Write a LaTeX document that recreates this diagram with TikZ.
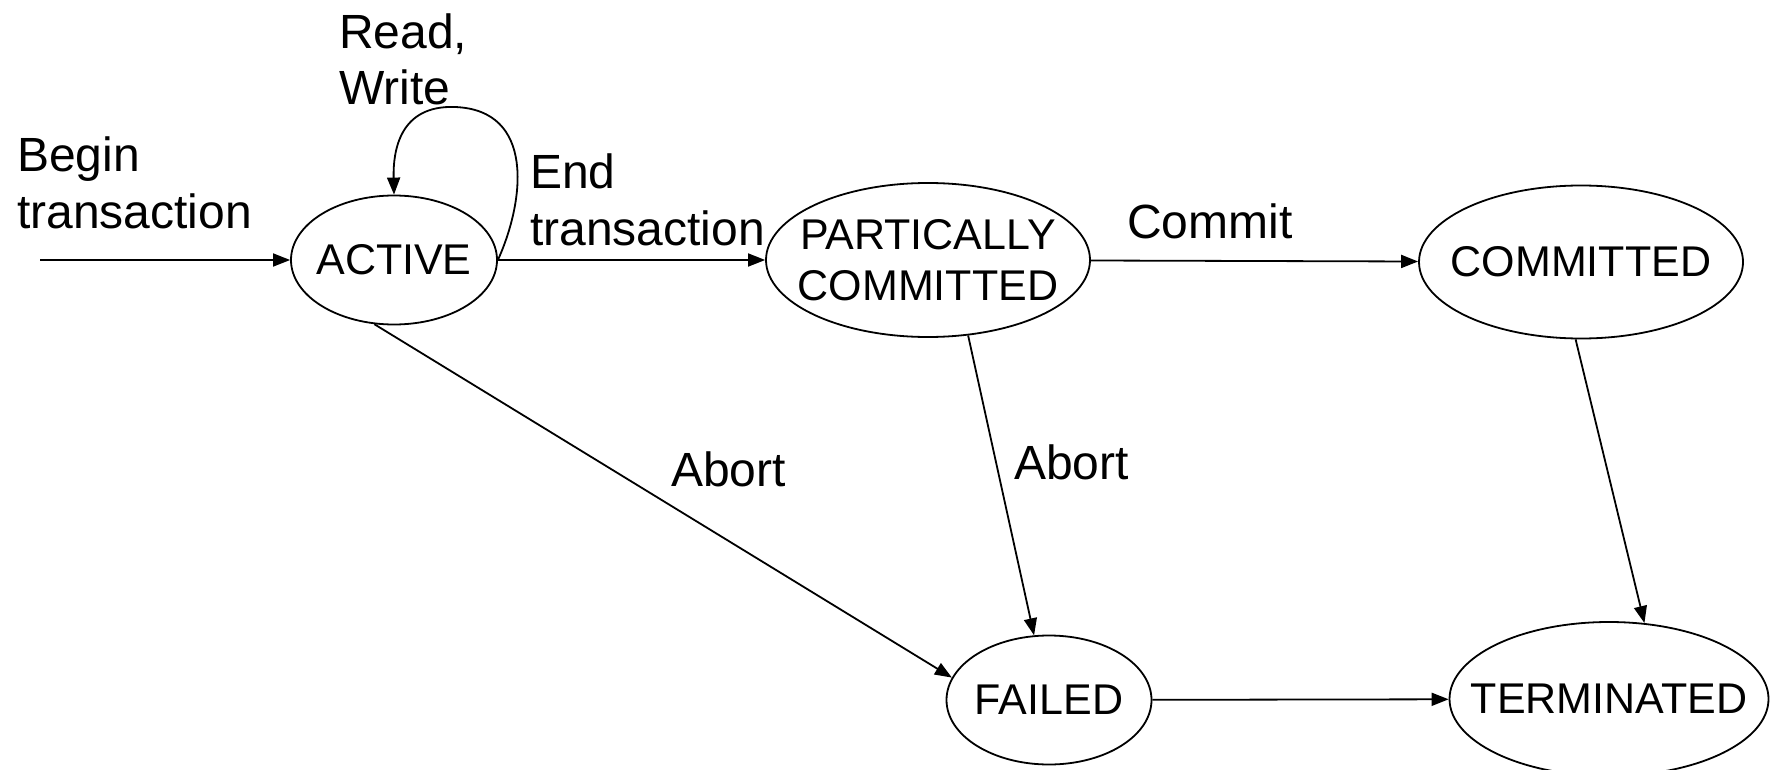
\documentclass[tikz,border=0pt]{standalone}
\usepackage{fontspec}
\setmainfont{Liberation Sans}
\usetikzlibrary{shapes.geometric,arrows.meta}
\newcommand\zw[1]{\makebox[0pt]{#1}}
\begin{document}
\begin{tikzpicture}[x=1pt,y=-1pt,
  state/.style={ellipse,draw,line width=1.8pt,inner sep=0pt,align=center,
    font=\fontsize{43}{51}\selectfont},
  lbl/.style={anchor=base west,inner sep=0pt,align=left,
    font=\fontsize{48}{56.5}\selectfont},
  arr/.style={line width=1.8pt,-{Triangle[length=17pt,width=13pt]}}]
\useasboundingbox (0,0) rectangle (1771,770);
\node[state,minimum width=206pt,minimum height=129pt] (active) at (394,260) {\zw{ACTIVE}};
\node[state,minimum width=324pt,minimum height=154pt] (partic) at (928,260) {\zw{PARTICALLY}\\\zw{COMMITTED}};
\node[state,minimum width=324pt,minimum height=153pt] (committed) at (1581,262) {\zw{COMMITTED}};
\node[state,minimum width=205pt,minimum height=129pt] (failed) at (1049,700) {\zw{FAILED}};
\node[state,minimum width=319pt,minimum height=154pt] (terminated) at (1609,699) {\zw{TERMINATED}};
\coordinate (start) at (40,260);
\node[lbl] (lbegin) at (17,228) {Begin\\transaction};
\node[lbl] (lrw) at (339,105) {Read,\\Write};
\node[lbl] (lend) at (530,245) {End\\transaction};
\node[lbl] (lcommit) at (1127,238) {Commit};
\node[lbl] (labort1) at (671,486) {Abort};
\node[lbl] (labort2) at (1014,479) {Abort};
\draw[arr] (start) -- (active);
\draw[arr] (active) -- (partic);
\draw[arr] (partic) -- (committed);
\draw[arr] (failed) -- (terminated);
\draw[arr] (active.east) .. controls (525,200) and (535,110) .. (455,107)
  .. controls (400,105) and (393,150) .. (active.north);
\draw[arr] (active.253) -- (failed.167);
\draw[arr] (partic.298) -- (failed.103);
\draw[arr] (committed.266) -- (terminated.65);
\end{tikzpicture}
\end{document}
